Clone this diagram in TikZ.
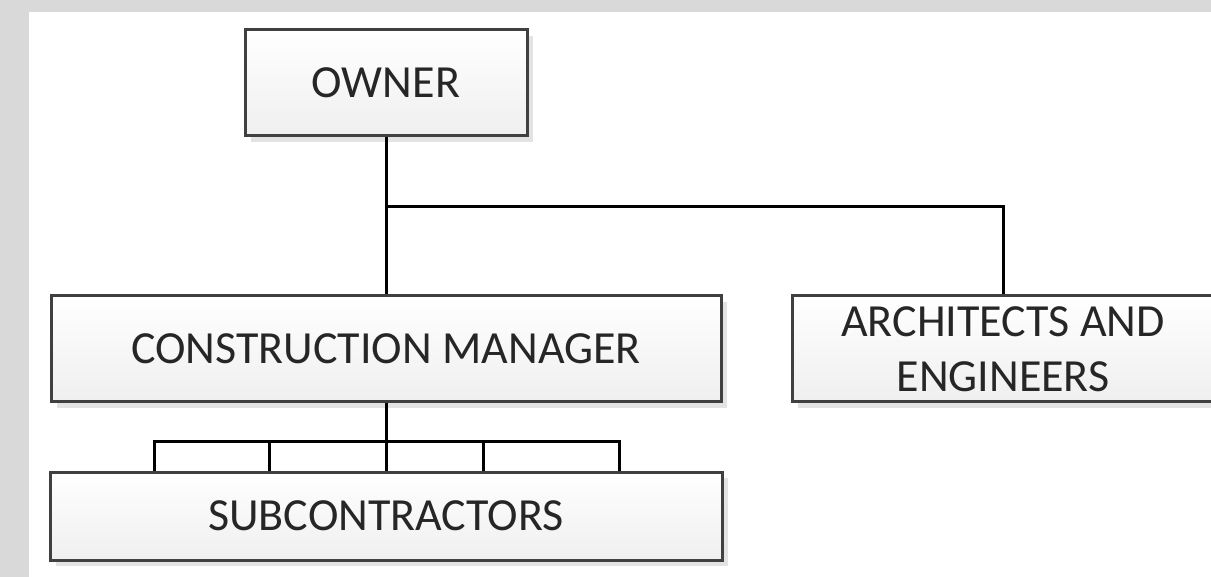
\documentclass[tikz,border=0pt]{standalone}
\usepackage{fontspec}
\setmainfont{Carlito}
\usetikzlibrary{shadows}
\definecolor{framegray}{HTML}{D9D9D9}
\definecolor{boxedge}{HTML}{404040}
\definecolor{boxbottom}{HTML}{EFEFEF}
\definecolor{shadowgray}{HTML}{E3E3E3}
\tikzset{
  orgbox/.style={draw=boxedge, line width=3pt, top color=white, bottom color=boxbottom,
    drop shadow={shadow xshift=6pt, shadow yshift=-6pt, fill=shadowgray, opacity=1},
    inner sep=0pt, font=\fontsize{46}{55}\selectfont, text=black!85, align=center},
  link/.style={draw=black, line width=3pt}
}
\begin{document}
\begin{tikzpicture}[x=1pt,y=-1pt]
\fill[framegray] (0,0) rectangle (1211,577);
\fill[white] (29,12) rectangle (1211,577);
\useasboundingbox (0,0) rectangle (1211,577);

\node[orgbox, minimum width=282pt, minimum height=106pt] (owner) at (386,83) {OWNER};
\node[orgbox, minimum width=670pt, minimum height=106pt] (cm) at (386,349) {CONSTRUCTION MANAGER};
\node[orgbox, minimum width=422pt, minimum height=106pt] (ae) at (1003,349) {ARCHITECTS AND\\ENGINEERS};
\node[orgbox, minimum width=672pt, minimum height=88pt] (subs) at (386,516) {SUBCONTRACTORS};

\coordinate (j1) at (386,207);
\draw[link] (owner.south) -- (j1) -| (ae.north);
\draw[link] (j1) -- (cm.north);

\coordinate (d1) at (154,441);
\coordinate (d2) at (269,441);
\coordinate (d3) at (386,441);
\coordinate (d4) at (483,441);
\coordinate (d5) at (619,441);
\draw[link] (cm.south) -- (d3);
\draw[link] (d1 |- subs.north) -- (d1) -- (d5) -- (d5 |- subs.north);
\draw[link] (d2) -- (d2 |- subs.north);
\draw[link] (d3) -- (d3 |- subs.north);
\draw[link] (d4) -- (d4 |- subs.north);
\end{tikzpicture}
\end{document}
